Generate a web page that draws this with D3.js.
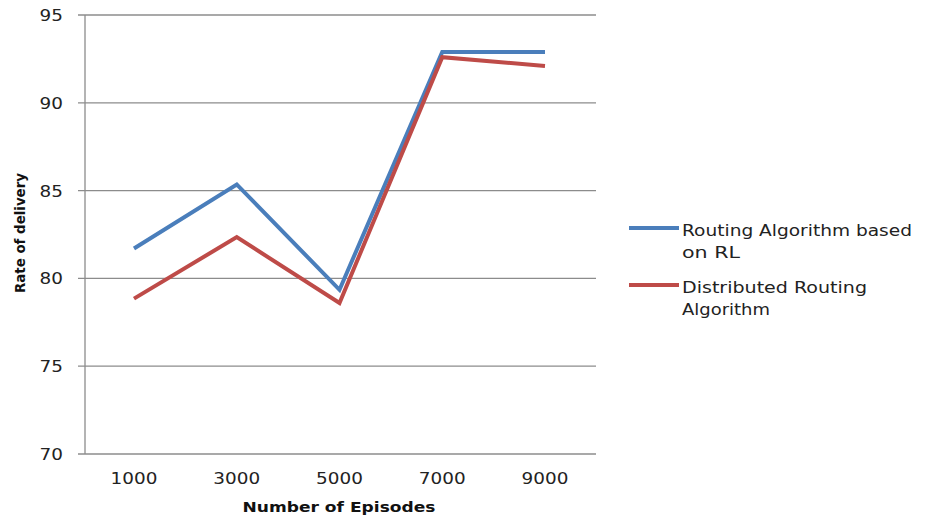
<!DOCTYPE html>
<html><head><meta charset="utf-8">
<script src="https://cdn.jsdelivr.net/npm/d3@7"></script>
<style>body{margin:0;background:#fff}svg{display:block}</style>
</head><body>
<svg id="c" width="930" height="517"></svg>
<script>
const categories = ["1000","3000","5000","7000","9000"];
const rlValues = [81.7, 85.35, 79.35, 92.9, 92.9];
const drValues = [78.85, 82.35, 78.6, 92.6, 92.1];
const yTicks = [70,75,80,85,90,95];
const seriesNames = ["Routing Algorithm based on RL","Distributed Routing Algorithm"];
const seriesLines = [["Routing Algorithm based","on RL"],["Distributed Routing","Algorithm"]];
const colors = ["#4a7ebb","#be4b48"];

(function(){
const svg = d3.select("#c");
const font = "'DejaVu Sans', Verdana, sans-serif";
const pLeft = 85, pRight = 596, pTop = 15, pBottom = 454;
const x = d3.scalePoint().domain(categories).range([134, 545]);
const y = d3.scaleLinear().domain([70,95]).range([pBottom, pTop]);
const digitW = 11.7;

svg.append("g").selectAll("line").data(yTicks).join("line")
  .attr("x1", pLeft-7).attr("x2", pRight)
  .attr("y1", d=>y(d)).attr("y2", d=>y(d))
  .attr("stroke", "#8c8c8c").attr("stroke-width", 1.3);
svg.append("line").attr("x1", pLeft).attr("x2", pLeft).attr("y1", pTop).attr("y2", pBottom)
  .attr("stroke", "#8c8c8c").attr("stroke-width", 1.3);

svg.append("g").selectAll("text").data(yTicks).join("text")
  .attr("x", 63).attr("y", d=>y(d)+6)
  .attr("text-anchor","end").attr("font-family",font).attr("font-size",15.5).attr("fill","#222")
  .attr("textLength", d=>String(d).length*digitW).attr("lengthAdjust","spacingAndGlyphs")
  .text(d=>d);
svg.append("g").selectAll("text").data(categories).join("text")
  .attr("x", d=>x(d)).attr("y", 484)
  .attr("text-anchor","middle").attr("font-family",font).attr("font-size",15.5).attr("fill","#222")
  .attr("textLength", d=>d.length*digitW).attr("lengthAdjust","spacingAndGlyphs")
  .text(d=>d);

svg.append("text").attr("x", 339).attr("y", 512).attr("text-anchor","middle")
  .attr("font-family",font).attr("font-size",14).attr("font-weight","bold").attr("fill","#111")
  .attr("textLength",193).attr("lengthAdjust","spacingAndGlyphs")
  .text("Number of Episodes");
svg.append("text").attr("transform","translate(25,233) rotate(-90)").attr("text-anchor","middle")
  .attr("font-family",font).attr("font-size",14.5).attr("font-weight","bold").attr("fill","#111")
  .attr("textLength",120).attr("lengthAdjust","spacingAndGlyphs")
  .text("Rate of delivery");

const line = d3.line().x((d,i)=>x(categories[i])).y(d=>y(d));
[rlValues, drValues].forEach((vals,k)=>{
  svg.append("path").datum(vals).attr("d", line).attr("fill","none")
    .attr("stroke", colors[k]).attr("stroke-width", 4).attr("stroke-linejoin","miter");
});

const legY = [228, 285];
const legLens = [[230, 58], [185, 88]];
seriesNames.forEach((n,k)=>{
  const g = svg.append("g");
  g.append("line").attr("x1",629).attr("x2",679).attr("y1",legY[k]).attr("y2",legY[k])
    .attr("stroke",colors[k]).attr("stroke-width",4);
  seriesLines[k].forEach((t,j)=>{
    g.append("text").attr("x",682).attr("y",legY[k]+7.5+j*22)
      .attr("font-family",font).attr("font-size",16.5).attr("fill","#222")
      .attr("textLength",legLens[k][j]).attr("lengthAdjust","spacingAndGlyphs").text(t);
  });
});
})();
</script>
</body></html>
